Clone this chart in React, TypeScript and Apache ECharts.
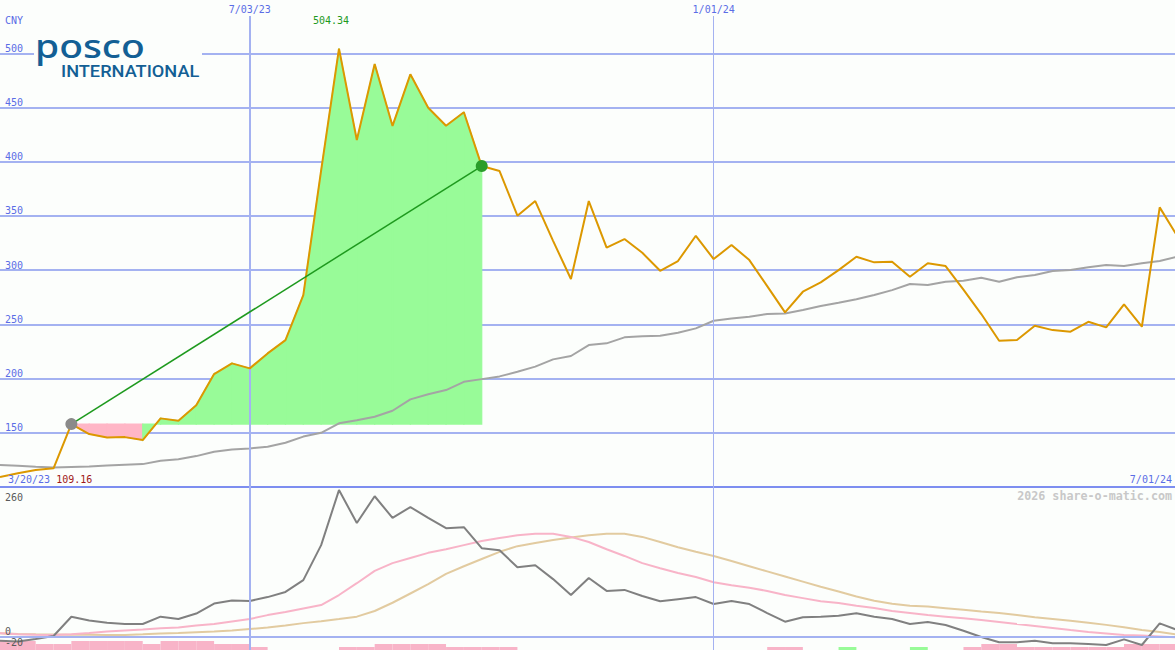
import React, { useEffect, useRef } from 'react';
import * as echarts from 'echarts';

const DAY = 86400000;
const firstWeek = Date.UTC(2023, 2, 27);
const weekCount = 67;
const dates: number[] = Array.from({ length: weekCount }, (_, i) => firstWeek + i * 7 * DAY);
const axisStart = firstWeek;
const axisEnd = firstWeek + 461 * DAY;

const price = [
  109.16, 112.6, 115.6, 117.2, 158.0, 148.8, 145.7, 146.0, 143.3, 163.3,
  161.1, 175.5, 204.2, 214.0, 209.4, 223.2, 235.5, 277.0, 392.0, 504.34,
  420.0, 490.1, 433.0, 480.6, 449.8, 433.2, 445.6, 396.0, 391.4, 350.2,
  363.7, 327.0, 291.8, 363.7, 320.7, 328.7, 316.0, 299.4, 308.4, 331.7,
  310.2, 323.2, 309.3, 285.3, 261.1, 280.1, 288.7, 300.0, 312.4, 307.2,
  307.8, 293.9, 306.3, 303.8, 282.0, 259.5, 234.9, 235.5, 248.7, 244.7,
  243.2, 252.4, 247.2, 268.5, 247.8, 357.9, 331.0,
];
const priceMA = [
  120.2, 119.5, 118.6, 118.0, 118.5, 119.0, 119.8, 120.5, 121.1, 124.2,
  125.5, 128.5, 132.5, 134.5, 135.6, 137.1, 140.8, 146.5, 150.0, 158.7,
  161.5, 164.8, 170.3, 180.8, 185.5, 189.4, 197.0, 199.5, 202.0, 206.3,
  211.0, 217.7, 220.8, 230.9, 232.5, 238.0, 239.0, 239.5, 242.3, 246.3,
  253.3, 255.5, 257.0, 259.5, 260.1, 263.2, 266.9, 269.9, 273.1, 277.0,
  281.6, 287.2, 286.3, 289.3, 290.2, 293.0, 289.3, 293.4, 295.5, 299.2,
  300.1, 302.6, 304.7, 303.8, 306.3, 308.4, 312.5,
];
const oscLine = [
  -7.8, -9.3, -4.5, 1.4, 38.9, 31.5, 27.2, 24.7, 24.7, 38.9,
  34.4, 45.1, 64.5, 70.4, 69.4, 77, 87, 110, 178, 285,
  221, 273, 231, 252, 231, 211, 213, 172, 168, 135,
  139, 112, 81, 114, 89, 91, 79, 69, 73, 77,
  63.5, 69.4, 63.5, 46, 29.2, 37.7, 38.9, 40.8, 45.5, 38.9,
  34.4, 24.7, 28.6, 22.7, 11.7, -0.6, -10.9, -10.9, -7.8, -12.8,
  -12.8, -14.2, -16.1, -5.1, -16.1, 26, 13,
];
const oscFast = [
  6.6, 5, 4, 3.3, 5, 7, 10, 12, 14, 16.3,
  18, 22, 24.7, 29.5, 34.4, 42, 48, 55, 61.6, 81,
  104, 128, 143, 153, 163, 170, 178, 186, 192, 197,
  200, 200, 194, 184, 170, 157, 143, 133, 124, 116,
  106, 100, 95, 89, 81, 75, 69, 65.5, 60, 56,
  50, 46, 42, 39, 36, 32.5, 28.6, 24.7, 21, 17,
  13, 9.1, 6.2, 3.3, 2.3, 0.4, -1.5,
];
const oscSlow = [
  6.6, 5.2, 4.7, 4.3, 3.9, 3.7, 3.3, 3.3, 4.7, 6.2,
  7.2, 8.6, 10, 12, 15, 18, 22, 26.4, 30, 34.4,
  39, 50, 66, 84, 102, 122, 137, 151, 165, 176,
  182, 188, 193, 197, 200, 200, 194, 184, 174, 165,
  157, 147, 137, 127, 117, 107, 97, 88, 78, 70,
  64, 60, 58.5, 55.5, 52.5, 49, 46, 42, 38, 34.5,
  31, 27, 23, 18.5, 13, 9, 4,
];
// weekly signal strength (negative = pink, positive = green), one per week interval
const signalLevels = [
  -3, -3, -2, -2, -3, -3, -3, -3, -2, -3,
  -3, -3, -2, -2, -1, 0, 0, 0, 0, -1,
  -1, -2, -2, -2, -2, -1, -1, -1, -1, 0,
  0, 0, 0, 0, 0, 0, 0, 0, 0, 0,
  0, 0, 0, -1, -1, 0, 0, 1, 0, 0,
  0, 1, 0, 0, -1, -2, -2, -1, -1, -1,
  -1, -1, -1, -2, -2, -2,
];
const priceTicks = [150, 200, 250, 300, 350, 400, 450, 500];
const oscTicks = [-20, 0, 260];
const periodLines = [Date.UTC(2023, 6, 3), Date.UTC(2024, 0, 1)];
const periodLineWidths = [2, 1];
const fromLabel = '3/20/23';
const toLabel = '7/01/24';
const currency = 'CNY';
const compareFrom = 4;
const compareTo = 27;

const BG = '#fcfefc';
const BLUE_TEXT = '#5a6de6';
const GRID_LINE = '#a4b2f1';
const BORDER = '#7d8ef0';
const ORANGE = '#dc9800';
const MA_GRAY = '#a4a4a4';
const OSC_GRAY = '#808080';
const PINK = '#f8b4c8';
const TAN = '#e2cba0';
const FILL_GREEN = '#98fb98';
const FILL_PINK = '#ffb6c6';
const TREND_GREEN = '#1e9a1e';
const LOGO = '#135f95';
const MONO = 'DejaVu Sans Mono';

const fmtDate = (t: number) => {
  const d = new Date(t);
  return `${d.getUTCMonth() + 1}/${String(d.getUTCDate()).padStart(2, '0')}/${String(d.getUTCFullYear()).slice(2)}`;
};

export default function App() {
  const ref = useRef<HTMLDivElement>(null);
  useEffect(() => {
    if (!ref.current) return;
    const chart = echarts.init(ref.current, null, { renderer: 'svg' });
    const base = price[compareFrom];
    const segments: number[][] = [];
    for (let i = compareFrom; i < compareTo; i++) {
      segments.push([dates[i], price[i], dates[i + 1], price[i + 1]]);
    }
    const minPrice = Math.min(...price).toFixed(2);
    const pair = (arr: number[]) => arr.map((v, i) => [dates[i], v]);

    const option: any = {
      animation: false,
      backgroundColor: BG,
      grid: [
        { left: 0, right: 0, top: 16, bottom: 163, outerBoundsMode: 'none' },
        { left: 0, right: 0, top: 487, bottom: 3, outerBoundsMode: 'none' },
        { left: 0, right: 0, top: 16, bottom: 0, outerBoundsMode: 'none' },
        { left: 0, width: (66 * 7 * 1175) / 461, bottom: 0, height: 30, outerBoundsMode: 'none' },
      ],
      xAxis: [
        {
          gridIndex: 0, type: 'time', min: axisStart, max: axisEnd,
          axisLine: { show: true, onZero: false, lineStyle: { color: BORDER, width: 2 } },
          axisTick: { show: false }, axisLabel: { show: false }, splitLine: { show: false },
        },
        { gridIndex: 1, type: 'time', min: axisStart, max: axisEnd, show: false },
        { gridIndex: 2, type: 'time', min: axisStart, max: axisEnd, show: false },
        { gridIndex: 3, type: 'category', data: dates.slice(0, 66).map(fmtDate), show: false, boundaryGap: true },
      ],
      yAxis: [
        {
          gridIndex: 0, type: 'value', min: 100, max: 534.4, interval: 50,
          axisLine: { show: false }, axisTick: { show: false },
          splitLine: { show: true, showMinLine: false, showMaxLine: false, lineStyle: { color: GRID_LINE, width: 2 } },
          axisLabel: {
            inside: true, margin: 5, showMinLabel: false, showMaxLabel: false,
            verticalAlign: 'bottom', color: BLUE_TEXT, fontFamily: MONO, fontSize: 10,
            formatter: (v: number) => (priceTicks.includes(v) ? String(v) : ''),
          },
        },
        {
          gridIndex: 1, type: 'value', min: -20, max: 291, interval: 20, z: 8,
          axisLine: { show: false }, axisTick: { show: false }, splitLine: { show: false },
          axisLabel: {
            inside: true, margin: 5, showMinLabel: true, showMaxLabel: false,
            verticalAlign: 'bottom', color: '#5a5a5a', fontFamily: MONO, fontSize: 10,
            formatter: (v: number) => (oscTicks.includes(v) ? String(v) : ''),
          },
        },
        { gridIndex: 2, type: 'value', min: 0, max: 1, show: false },
        { gridIndex: 3, type: 'value', min: 0, max: 10, show: false },
      ],
      series: [
        {
          type: 'line', xAxisIndex: 2, yAxisIndex: 2, data: [], z: 1, silent: true,
          markLine: {
            silent: true, symbol: 'none', animation: false,
            data: periodLines.map((d, i) => ({
              xAxis: d,
              lineStyle: { color: GRID_LINE, width: periodLineWidths[i], type: 'solid' },
            })),
            label: {
              show: true, position: 'end', distance: 2, color: BLUE_TEXT,
              fontFamily: MONO, fontSize: 10,
              formatter: (p: any) => fmtDate(p.value),
            },
          },
        },
        {
          type: 'line', xAxisIndex: 1, yAxisIndex: 1, data: [], z: 1, silent: true,
          markLine: {
            silent: true, symbol: 'none', animation: false,
            data: [{ yAxis: 0 }],
            lineStyle: { color: GRID_LINE, width: 2, type: 'solid' },
            label: { show: false },
          },
        },
        {
          type: 'bar', xAxisIndex: 3, yAxisIndex: 3, z: 1, silent: true,
          barCategoryGap: '0%',
          data: signalLevels.map((v) => ({
            value: Math.abs(v),
            itemStyle: { color: v > 0 ? FILL_GREEN : PINK },
          })),
        },
        {
          type: 'custom', xAxisIndex: 0, yAxisIndex: 0, z: 3, silent: true,
          encode: { x: [0, 2], y: [1, 3] },
          data: segments,
          renderItem: (_p: any, api: any) => {
            const x0 = api.value(0), y0 = api.value(1), x1 = api.value(2), y1 = api.value(3);
            const col = y1 >= base ? FILL_GREEN : FILL_PINK;
            return {
              type: 'polygon',
              shape: { points: [api.coord([x0, base]), api.coord([x0, y0]), api.coord([x1, y1]), api.coord([x1, base])] },
              style: { fill: col, stroke: col, lineWidth: 1.2 },
            };
          },
        },
        {
          type: 'line', xAxisIndex: 0, yAxisIndex: 0, z: 4, silent: true,
          data: pair(priceMA), symbol: 'none',
          lineStyle: { color: MA_GRAY, width: 2 },
        },
        {
          type: 'line', xAxisIndex: 0, yAxisIndex: 0, z: 5, silent: true,
          data: pair(price), symbol: 'none',
          lineStyle: { color: ORANGE, width: 2 },
          markPoint: {
            silent: true, symbol: 'circle', symbolSize: 0,
            data: [{ type: 'max' }],
            label: {
              show: true, position: 'top', offset: [-8, -18], color: TREND_GREEN,
              fontFamily: MONO, fontSize: 10,
              formatter: (p: any) => Number(p.value).toFixed(2),
            },
          },
        },
        {
          type: 'line', xAxisIndex: 0, yAxisIndex: 0, z: 6, silent: true,
          data: [
            { value: [dates[compareFrom], price[compareFrom]], itemStyle: { color: '#8a8a8a' } },
            { value: [dates[compareTo], price[compareTo]], itemStyle: { color: '#2a9d2a' } },
          ],
          symbol: 'circle', symbolSize: 12, showSymbol: true,
          lineStyle: { color: TREND_GREEN, width: 1.5 },
        },
        {
          type: 'line', xAxisIndex: 1, yAxisIndex: 1, z: 3, silent: true,
          data: pair(oscSlow), symbol: 'none', lineStyle: { color: TAN, width: 2 },
        },
        {
          type: 'line', xAxisIndex: 1, yAxisIndex: 1, z: 3, silent: true,
          data: pair(oscFast), symbol: 'none', lineStyle: { color: PINK, width: 2 },
        },
        {
          type: 'line', xAxisIndex: 1, yAxisIndex: 1, z: 4, silent: true,
          data: pair(oscLine), symbol: 'none', lineStyle: { color: OSC_GRAY, width: 2 },
        },
      ],
      graphic: [
        { type: 'rect', x: 34, y: 31, shape: { width: 168, height: 50 }, style: { fill: BG }, z: 10 },
        {
          type: 'text', x: 35, y: 45, scaleX: 1.18, z: 11,
          style: { text: 'posco', fontFamily: 'Noto Sans', fontSize: 33, fontWeight: 500, fill: LOGO, verticalAlign: 'middle' },
        },
        {
          type: 'text', x: 61, y: 71, scaleX: 1.07, z: 11,
          style: { text: 'INTERNATIONAL', fontFamily: 'Roboto', fontSize: 17, fontWeight: 500, fill: LOGO, verticalAlign: 'middle' },
        },
        {
          type: 'text', x: 5, y: 20, z: 11,
          style: { text: currency, fontFamily: MONO, fontSize: 10, fill: BLUE_TEXT, verticalAlign: 'middle' },
        },
        {
          type: 'text', x: 8, y: 479, z: 11,
          style: {
            text: `${fromLabel} {r|${minPrice}}`, fontFamily: MONO, fontSize: 10, fill: BLUE_TEXT, verticalAlign: 'middle',
            rich: { r: { fontFamily: MONO, fontSize: 10, fill: '#a01818' } },
          },
        },
        {
          type: 'text', x: 1172, y: 479, z: 11,
          style: { text: toLabel, fontFamily: MONO, fontSize: 10, fill: BLUE_TEXT, align: 'right', verticalAlign: 'middle' },
        },
        {
          type: 'text', x: 1172, y: 496, z: 11,
          style: { text: '2026 share-o-matic.com', fontFamily: MONO, fontSize: 11.7, fontWeight: 'bold', fill: '#c8c8c8', align: 'right', verticalAlign: 'middle' },
        },
      ],
    };
    chart.setOption(option);
    return () => chart.dispose();
  }, []);
  return <div ref={ref} style={{ position: 'absolute', left: 0, top: 0, width: 1175, height: 650 }} />;
}
